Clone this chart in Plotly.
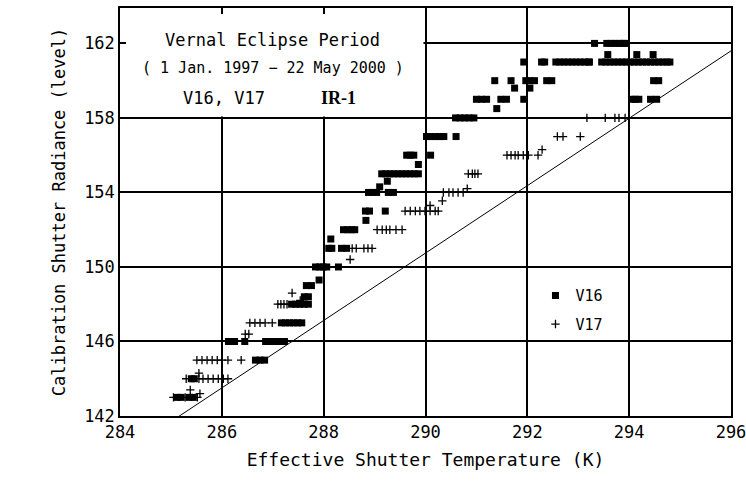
import plotly.graph_objects as go

# Axis ticks
x_ticks = [284, 286, 288, 290, 292, 294, 296]
y_ticks = [142, 146, 150, 154, 158, 162]

# V16 samples: effective shutter temperature (K) and calibration shutter level
v16_temp = [
    293.32, 293.56, 293.64, 293.72, 293.80, 293.88, 293.91,
    293.58, 294.15, 294.47,
    291.93, 292.28, 292.34, 292.56, 292.64, 292.72, 292.80, 292.88, 292.96,
    293.04, 293.12, 293.20, 293.22, 293.46, 293.54, 293.62, 293.70, 293.78,
    293.86, 293.94, 294.02, 294.10, 294.18, 294.26, 294.34, 294.42, 294.50,
    294.58, 294.66, 294.74, 294.80,
    291.36, 291.68, 291.97, 292.05, 292.14, 292.38, 292.48, 294.48, 294.58,
    291.75, 292.05,
    291.00, 291.10, 291.20, 291.48, 291.59, 291.93, 294.05, 294.12, 294.19,
    294.42, 294.54,
    291.40,
    290.59, 290.68, 290.77, 290.86, 290.95,
    290.02, 290.10, 290.19, 290.28, 290.36, 290.60,
    289.63, 289.70, 289.77, 290.10,
    289.86,
    289.14, 289.22, 289.30, 289.38, 289.46, 289.54, 289.62, 289.70, 289.78,
    289.86,
    289.25,
    289.10,
    288.88, 288.96, 289.04, 289.27, 289.37,
    288.82, 288.90, 289.21,
    288.83,
    288.39, 288.47, 288.55, 288.61,
    288.14,
    288.10, 288.16, 288.35, 288.45,
    287.84, 287.92, 287.99, 288.06, 288.29,
    287.91,
    287.66, 287.76,
    287.62, 287.70,
    287.37, 287.45, 287.53, 287.61, 287.70,
    287.17, 287.25, 287.33, 287.41, 287.49, 287.57,
    286.13, 286.19, 286.25, 286.45, 286.86, 286.94, 287.02, 287.10, 287.17,
    287.23,
    286.66, 286.75, 286.84,
    285.40, 285.46,
    285.12, 285.20, 285.36, 285.44,
]
v16_level = (
    [162] * 7
    + [161.4] * 3
    + [161] * 31
    + [160] * 9
    + [159.6] * 2
    + [159] * 11
    + [158.5]
    + [158] * 5
    + [157] * 6
    + [156] * 4
    + [155.5]
    + [155] * 10
    + [154.6]
    + [154.3]
    + [154] * 5
    + [153] * 3
    + [152.5]
    + [152] * 4
    + [151.5]
    + [151] * 4
    + [150] * 5
    + [149.3]
    + [149] * 2
    + [148.4] * 2
    + [148] * 5
    + [147] * 6
    + [146] * 10
    + [145] * 3
    + [144] * 2
    + [143] * 4
)

# V17 samples
v17_temp = [
    293.17, 293.53, 293.72, 293.80, 293.92,
    292.59, 292.70, 293.04,
    292.29,
    291.60, 291.68, 291.76, 291.82, 291.92, 292.02, 292.21,
    290.84, 290.92, 290.97, 291.03,
    290.82,
    290.35, 290.46, 290.54, 290.64, 290.74,
    290.33,
    290.09,
    289.60, 289.70, 289.80, 289.89, 289.99, 290.09, 290.19, 290.25,
    289.05, 289.15, 289.23, 289.30, 289.42, 289.54,
    288.56, 288.64, 288.79, 288.87, 288.95,
    288.52,
    287.38,
    287.54,
    287.10, 287.16, 287.22, 287.28,
    286.55, 286.65, 286.75, 286.85, 286.99,
    286.46, 286.53,
    285.51, 285.61, 285.71, 285.81, 285.91, 286.00, 286.12, 286.38,
    285.55,
    285.30, 285.55, 285.63, 285.73, 285.83, 285.93, 286.03, 286.12,
    285.38,
    285.57,
    285.05, 285.28, 285.52,
]
v17_level = (
    [158] * 5
    + [157] * 3
    + [156.3]
    + [156] * 7
    + [155] * 4
    + [154.2]
    + [154] * 5
    + [153.55]
    + [153.3]
    + [153] * 8
    + [152] * 6
    + [151] * 5
    + [150.4]
    + [148.6]
    + [148.2]
    + [148] * 4
    + [147] * 5
    + [146.4] * 2
    + [145] * 8
    + [144.3]
    + [144] * 8
    + [143.4]
    + [143.2]
    + [143] * 3
)

# Reference line
line_temp = [285.0, 296.0]
line_level = [141.7, 161.6]

TEXT_FONT = "DejaVu Sans Mono, DejaVu Sans, sans-serif"

fig = go.Figure()

fig.add_trace(go.Scatter(
    x=line_temp, y=line_level, mode="lines",
    line=dict(color="black", width=1),
    showlegend=False, hoverinfo="skip",
))

fig.add_trace(go.Scatter(
    x=v16_temp, y=v16_level, mode="markers", name="V16",
    marker=dict(symbol="square", size=7, color="black", line=dict(width=0)),
    legendgroup="a",
))

fig.add_trace(go.Scatter(
    x=v17_temp, y=v17_level, mode="markers", name="V17",
    marker=dict(symbol="cross-thin", size=6, color="black",
                line=dict(color="black", width=1.3)),
    legendgroup="b",
))

# Blank panel behind the caption in the upper-left cell block
fig.add_shape(
    type="rect", xref="x", yref="y",
    x0=284, x1=289.96, y0=158.08, y1=163.9,
    fillcolor="white", line=dict(width=0), layer="between",
)

def caption(x, y, text, size, family=TEXT_FONT):
    fig.add_annotation(
        x=x, y=y, xref="paper", yref="paper", xanchor="center", yanchor="middle",
        text=text, showarrow=False,
        font=dict(family=family, size=size, color="black"),
    )

caption(0.25, 0.922, "Vernal Eclipse Period", 17)
caption(0.25, 0.853, "( 1 Jan. 1997 \u2212 22 May 2000 )", 15)
caption(0.17, 0.779, "V16, V17", 17)
caption(0.357, 0.779, "<b>IR-1</b>", 18, "Liberation Serif, serif")

axis_common = dict(
    showgrid=True, gridcolor="black", gridwidth=1.5,
    showline=True, linecolor="black", linewidth=1.5, mirror="ticks",
    ticks="inside", ticklen=6, tickcolor="black", tickwidth=1.5,
    zeroline=False, ticklabeloverflow="allow", automargin=False,
    tickfont=dict(family=TEXT_FONT, size=17, color="black"),
)

fig.update_xaxes(
    range=[284, 296], tickvals=x_ticks,
    title=dict(text="Effective Shutter Temperature (K)",
               font=dict(family=TEXT_FONT, size=18, color="black"),
               standoff=12),
    **axis_common,
)
fig.update_yaxes(
    range=[142, 163.9], tickvals=y_ticks,
    title=dict(text="Calibration Shutter Radiance (level)",
               font=dict(family=TEXT_FONT, size=17, color="black"),
               standoff=14),
    **axis_common,
)

fig.update_layout(
    width=746, height=503,
    margin=dict(l=120, r=15, t=8, b=87),
    plot_bgcolor="white", paper_bgcolor="white",
    legend=dict(
        x=0.68, y=0.335, xanchor="left", yanchor="top",
        bgcolor="rgba(0,0,0,0)", borderwidth=0,
        traceorder="grouped", tracegroupgap=6,
        font=dict(family=TEXT_FONT, size=15, color="black"),
    ),
)

fig.write_html("out.html")
